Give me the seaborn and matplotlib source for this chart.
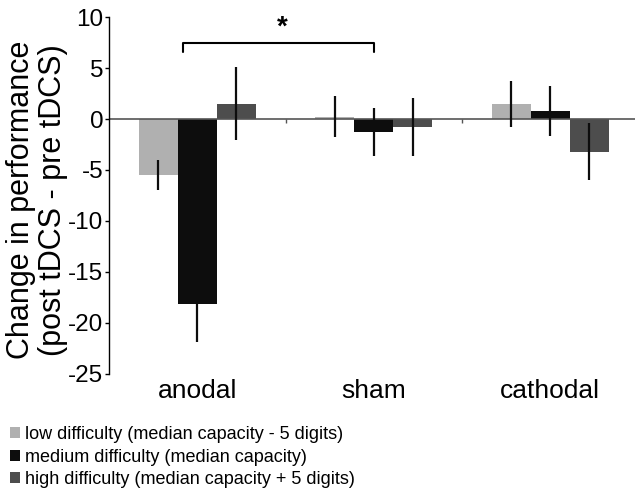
import matplotlib
matplotlib.use("Agg")
import matplotlib.pyplot as plt
import seaborn as sns
import pandas as pd
import numpy as np

# data
conditions = ["anodal", "sham", "cathodal"]
difficulty = [
    "low difficulty (median capacity - 5 digits)",
    "medium difficulty (median capacity)",
    "high difficulty (median capacity + 5 digits)",
]
low_vals = [-5.5, 0.25, 1.45]
medium_vals = [-18.2, -1.25, 0.78]
high_vals = [1.5, -0.8, -3.2]
low_err = [1.45, 2.05, 2.25]
medium_err = [3.7, 2.35, 2.45]
high_err = [3.6, 2.85, 2.8]
y_ticks = [10, 5, 0, -5, -10, -15, -20, -25]

colors = ["#b0b0b0", "#0d0d0d", "#4d4d4d"]

df = pd.DataFrame({
    "condition": conditions * 3,
    "difficulty": [difficulty[0]] * 3 + [difficulty[1]] * 3 + [difficulty[2]] * 3,
    "change": low_vals + medium_vals + high_vals,
})
errs = [low_err, medium_err, high_err]

sns.set_style("white")
plt.rcParams["font.family"] = ["Liberation Sans", "DejaVu Sans"]
plt.rcParams["axes.unicode_minus"] = False
plt.rcParams["text.color"] = "black"
plt.rcParams["xtick.color"] = "black"
plt.rcParams["ytick.color"] = "black"

fig = plt.figure(figsize=(6.35, 4.88), dpi=100)
ax = fig.add_axes([109 / 635, 1 - 373.6 / 488, 529.5 / 635, (373.6 - 17.3) / 488])

sns.barplot(data=df, x="condition", y="change", hue="difficulty",
            order=conditions, hue_order=difficulty, palette=colors, saturation=1,
            width=0.663, errorbar=None, linewidth=0, ax=ax)

# error bars drawn over the bars
for container, err in zip(ax.containers, errs):
    xs = [b.get_x() + b.get_width() / 2 for b in container]
    ys = [b.get_y() + b.get_height() for b in container]
    ax.errorbar(xs, ys, yerr=err, fmt="none", ecolor="#0d0d0d", elinewidth=1.6, capsize=0, zorder=5)

ax.axhline(0, color="#555555", lw=1.2, zorder=1)
ax.vlines([0.5, 1.5], -0.35, 0, color="#555555", lw=1)

ax.set_xlim(-0.5, 2.5)
ax.set_ylim(-25, 10)
ax.set_yticks(y_ticks)
ax.tick_params(axis="y", labelsize=17.5, length=3, width=1, pad=1, direction="out", left=True)
ax.tick_params(axis="x", labelsize=19, length=0, pad=4)
ax.set_xlabel("")
ax.set_ylabel("")
for s in ["top", "right", "bottom"]:
    ax.spines[s].set_visible(False)
ax.spines["left"].set_color("black")
ax.spines["left"].set_linewidth(1)

# significance bracket
ax.plot([-0.08, -0.08, 1.0, 1.0], [6.55, 7.5, 7.5, 6.55], color="black", lw=1.5, clip_on=False)
ax.text(0.48, 7.7, "*", ha="center", va="bottom", fontsize=20, fontweight="bold")

fig.text(37 / 635, 1 - 200 / 488, "Change in performance\n(post tDCS - pre tDCS)",
         rotation=90, ha="center", va="center", multialignment="center",
         fontsize=22, linespacing=1.05)

handles, labels = ax.get_legend_handles_labels()
ax.legend_.remove()
fig.legend(handles, labels, loc="lower left", bbox_to_anchor=(10 / 635, 0),
           frameon=False, fontsize=13, handlelength=0.55, handleheight=0.55,
           handletextpad=0.3, labelspacing=0.3, borderpad=0, borderaxespad=0)

fig.savefig("out.png", dpi=100)
